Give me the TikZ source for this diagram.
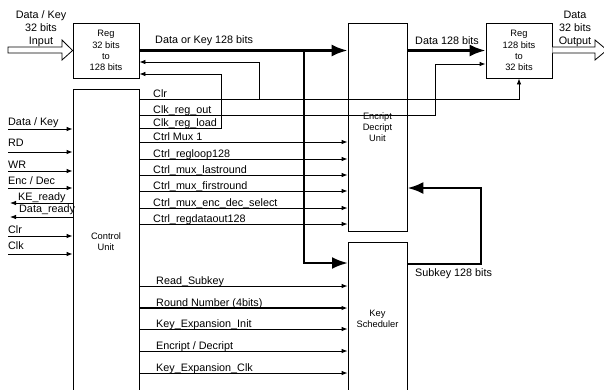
\documentclass[tikz,border=0pt]{standalone}
\usepackage{fontspec}
\setmainfont{Liberation Sans}
\usetikzlibrary{arrows.meta}

\begin{document}
\begin{tikzpicture}[x=1pt, y=-1pt,
        box/.style={draw, rectangle, align=center, line width=0.8pt, font=\fontsize{9.3}{11.3}\selectfont},
        lbl/.style={inner sep=0pt, font=\fontsize{10.8}{13}\selectfont},
        sig/.style={-{Latex[length=6pt, width=4.5pt]}, line width=0.8pt},
        bus/.style={-{Latex[length=16pt, width=12pt]}, line width=2.6pt},
        hollow/.style={draw, line width=0.8pt, fill=white}
    ]
    \useasboundingbox (0,0) rectangle (604,389);
    \clip (0,0) rectangle (604,389);

    % blocks
    \node[box, minimum width=66pt, minimum height=55pt] (regin) at (106,50.5) {Reg\\32 bits\\to\\128 bits};
    \node[box, minimum width=66pt, minimum height=55pt] (regout) at (519,50.5) {Reg\\128 bits\\to\\32 bits};
    \node[box, minimum width=66pt, minimum height=306pt] (cu) at (106,242) {Control\\Unit};
    \node[box, minimum width=59pt, minimum height=208pt] (edu) at (377.5,127) {Encript\\Decript\\Unit};
    \node[box, minimum width=59pt, minimum height=153pt] (ks) at (377.5,318.5) {Key\\Scheduler};

    % 32 bit ports
    \draw[hollow] (8,47) -- (62,47) -- (62,40) -- (regin.west) -- (62,60) -- (62,53) -- (8,53) -- cycle;
    \draw[hollow] (regout.east |- 0,47) -- (595,47) -- (595,40) -- (607,50) -- (595,60) -- (595,53) -- (regout.east |- 0,53);
    \node[lbl, align=center] (inlbl) at (41,29) {Data / Key\\32 bits\\Input};
    \node[lbl, align=center] (outlbl) at (575,29) {Data\\32 bits\\Output};

    % 128 bit buses
    \coordinate (split) at (304,50.5);
    \coordinate (ksin) at (348,263);
    \coordinate (skturn) at (481,188);
    \draw[bus] (regin.east) -- (regin.east -| edu.west);
    \draw[bus] (split) |- (ksin);
    \draw[bus] (edu.east |- regout.west) -- (regout.west);
    \draw[bus] (ks.east |- 0,264) -| (skturn) -- (skturn -| edu.east);
    \node[lbl, anchor=west] (buslbl) at (155,41) {Data or Key 128 bits};
    \node[lbl, anchor=west] (datalbl) at (415,41) {Data 128 bits};
    \node[lbl, anchor=west] (sklbl) at (415,274) {Subkey 128 bits};

    % register clocks and clear
    \coordinate (clrtap) at (259,99);
    \coordinate (outtap) at (435,64);
    \coordinate (loadtap) at (221,74);
    \draw[sig] (cu.east |- clrtap) -| (regout.south);
    \draw[sig] (clrtap) |- (regin.east |- 0,62);
    \draw[sig] (cu.east |- 0,115) -| (outtap) -- (outtap -| regout.west);
    \draw[sig] (cu.east |- 0,128) -| (loadtap) -- (loadtap -| regin.east);
    \node[lbl, anchor=base west] (clrlbl) at (153,97.2) {Clr};
    \node[lbl, anchor=base west] (outlbl2) at (153,113.2) {Clk\_reg\_out};
    \node[lbl, anchor=base west] (loadlbl) at (153,126.2) {Clk\_reg\_load};

    % control lines to the cipher unit
    \foreach \yy/\txt [count=\i] in {142/Ctrl Mux 1, 159/Ctrl\_regloop128, 175/Ctrl\_mux\_lastround,
            191/Ctrl\_mux\_firstround, 208/Ctrl\_mux\_enc\_dec\_select, 224/Ctrl\_regdataout128} {
        \draw[sig] (cu.east |- 0,\yy) -- (edu.west |- 0,\yy);
        \node[lbl, anchor=base west] (ctl\i) at (153,\yy-1.8) {\txt};
    }

    % control lines to the key scheduler
    \foreach \yy/\lw/\txt [count=\i] in {286/0.8/Read\_Subkey, 308/1.4/Round Number (4bits),
            329/0.8/Key\_Expansion\_Init, 351/0.8/{Encript / Decript}, 373/0.8/Key\_Expansion\_Clk} {
        \draw[sig, line width=\lw pt] (cu.east |- 0,\yy) -- (ks.west |- 0,\yy);
        \node[lbl, anchor=base west] (key\i) at (156,\yy-1.8) {\txt};
    }

    % external inputs
    \foreach \ly/\sy/\txt [count=\i] in {125.7/129/{Data / Key}, 146.7/152/RD, 168.7/171/WR,
            184.7/188/{Enc / Dec}, 233.7/236/Clr, 249.7/254/Clk} {
        \coordinate (in\i) at (8,\sy);
        \draw[sig] (in\i) -- (in\i -| cu.west);
        \node[lbl, anchor=base west] (inl\i) at (8,\ly) {\txt};
    }

    % status outputs
    \coordinate (kerdy) at (10,203);
    \coordinate (datardy) at (10,217);
    \draw[sig] (kerdy -| cu.west) -- (kerdy);
    \draw[sig] (datardy -| cu.west) -- (datardy);
    \node[lbl, anchor=base west] (kelbl) at (18,200.7) {KE\_ready};
    \node[lbl, anchor=base west] (drlbl) at (19,212.7) {Data\_ready};
\end{tikzpicture}
\end{document}
